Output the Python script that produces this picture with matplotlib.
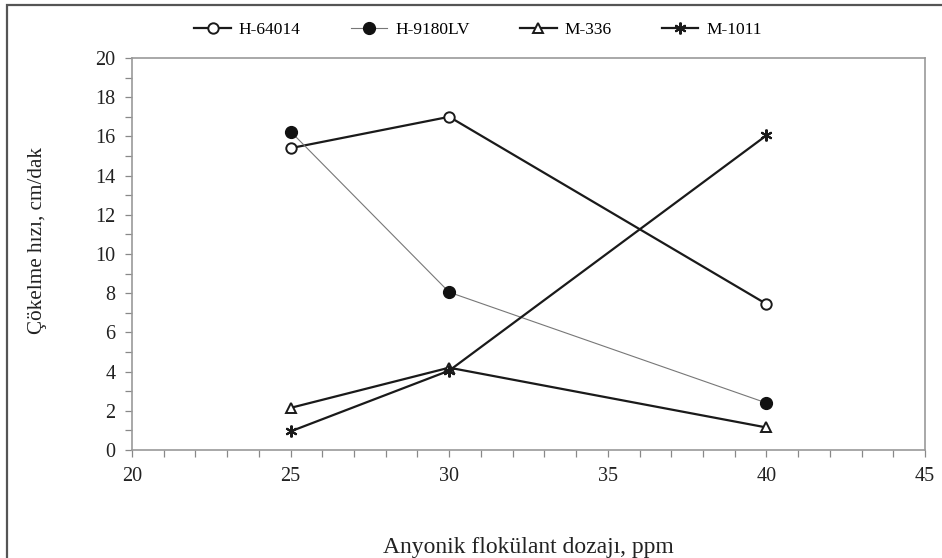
import matplotlib
matplotlib.use("Agg")
import matplotlib.pyplot as plt
from matplotlib.ticker import MultipleLocator
from matplotlib.patches import Rectangle

plt.rcParams['font.family'] = ['Liberation Serif', 'DejaVu Serif']

dosage = [25, 30, 40]
h64014 = [15.4, 17.0, 7.45]
h9180lv = [16.25, 8.05, 2.4]
m336 = [2.15, 4.2, 1.15]
m1011 = [0.95, 4.05, 16.05]

fig = plt.figure(figsize=(9.42, 5.58), dpi=100)
ax = fig.add_axes([132/942, 1-450/558, (925-132)/942, (450-58)/558])

ax.plot(dosage, h64014, color='#1a1a1a', lw=1.6, marker='o', ms=7.5,
        mfc='white', mec='#1a1a1a', mew=1.4, label='H-64014')
ax.plot(dosage, h9180lv, color='#777777', lw=0.8, marker='o', ms=8.5,
        mfc='#111111', mec='#111111', label='H-9180LV')
ax.plot(dosage, m336, color='#1a1a1a', lw=1.6, marker='^', ms=7.5,
        mfc='white', mec='#1a1a1a', mew=1.4, label='M-336')
ax.plot(dosage, m1011, color='#1a1a1a', lw=1.6, marker=(6, 2, 0), ms=8.5,
        mec='#1a1a1a', mew=1.5, label='M-1011')

ax.set_xlim(20, 45)
ax.set_ylim(0, 20)
ax.xaxis.set_major_locator(MultipleLocator(5))
ax.xaxis.set_minor_locator(MultipleLocator(1))
ax.yaxis.set_major_locator(MultipleLocator(2))
ax.yaxis.set_minor_locator(MultipleLocator(1))

for s in ax.spines.values():
    s.set_color('#999999')
    s.set_linewidth(1.2)
ax.tick_params(which='both', direction='out', color='#888888', length=5, width=0.9,
               labelsize=14.5, labelcolor='#222222')
ax.tick_params(axis='x', pad=7)
ax.tick_params(axis='y', pad=7)

ax.set_xlabel('Anyonik flokülant dozajı, ppm', fontsize=17, color='#222222', labelpad=0)
ax.xaxis.label.set_va('center')
ax.xaxis.set_label_coords(0.5, -(547-450)/392)
ax.set_ylabel('Çökelme hızı, cm/dak', fontsize=15.2, color='#222222')
ax.yaxis.label.set_va('center')
ax.yaxis.set_label_coords(-(132-38)/793, (450-241)/392)

fig.legend(loc='center', bbox_to_anchor=(478/942, 1-30/558), ncol=4, frameon=False,
           fontsize=12.5, handlelength=2.1, columnspacing=2.9, handletextpad=0.45)

fig.patches.append(Rectangle((7/942, -0.1), 1.2, 1-5/558+0.1, transform=fig.transFigure,
                             fill=False, edgecolor='#555555', lw=1.6, figure=fig))

fig.savefig('out.png', dpi=100)
